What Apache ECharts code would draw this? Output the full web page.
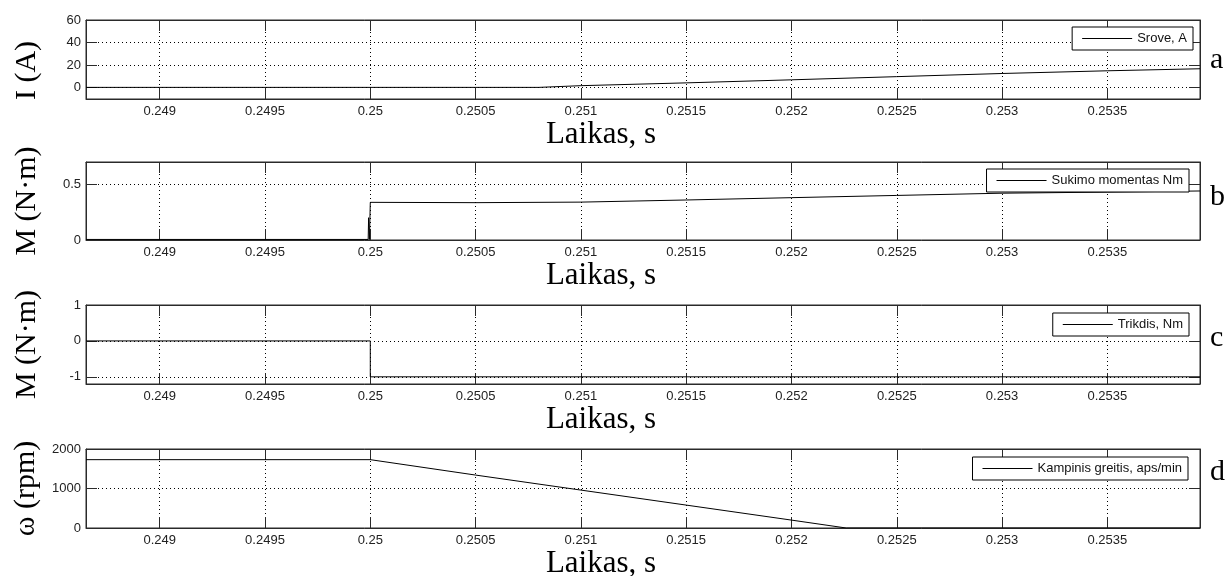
<!DOCTYPE html>
<html><head><meta charset="utf-8">
<script src="https://cdn.jsdelivr.net/npm/echarts@6/dist/echarts.min.js"></script>
<style>html,body{margin:0;padding:0;background:#fff}#c{width:1227px;height:576px}</style>
</head><body><div id="c"></div>
<script>
// ---- data ----
const xTickLabels = [0.249, 0.2495, 0.25, 0.2505, 0.251, 0.2515, 0.252, 0.2525, 0.253, 0.2535];
const xMin = 0.24865, xMax = 0.25394;

const currentT = [0.24865, 0.2508, 0.251, 0.2515, 0.252, 0.2525, 0.253, 0.2535, 0.25394];
const currentV = [0.3, 0.3, 1.8, 4.3, 7.0, 9.8, 12.6, 15.0, 16.8];

const torqueT = [0.24865, 0.24999, 0.249992, 0.249996, 0.25, 0.25, 0.2505, 0.251, 0.2515, 0.252, 0.2525, 0.253, 0.2535, 0.25394];
const torqueV = [0.005, 0.005, 0.2, 0.005, 0.005, 0.338, 0.335, 0.34, 0.359, 0.38, 0.40, 0.42, 0.43, 0.44];

const loadT = [0.24865, 0.25, 0.25, 0.25394];
const loadV = [0, 0, -1, -1];

const speedT = [0.24865, 0.25, 0.2505, 0.251, 0.2515, 0.252, 0.25226, 0.25394];
const speedV = [1730, 1730, 1340, 960, 580, 200, 0, 0];

const yTicksA = [0, 20, 40, 60];
const yTicksB = [0, 0.5];
const yTicksC = [-1, 0, 1];
const yTicksD = [0, 1000, 2000];

const seriesNames = ['Srove, A', 'Sukimo momentas Nm', 'Trikdis, Nm', 'Kampinis greitis, aps/min'];
const yNames = ['I (A)', 'M (N·m)', 'M (N·m)', 'ω (rpm)'];
const xName = 'Laikas, s';
const letters = ['a', 'b', 'c', 'd'];

// ---- layout ----
const panels = [
  {top: 20, height: 79, yMin: -10, yMax: 60, step: 20, ticks: yTicksA, t: currentT, v: currentV, lTop: 27, lRight: 34, namePad: [0, 22, 0, 0], letterY: 62},
  {top: 162, height: 78, yMin: 0, yMax: 0.7, step: 0.5, ticks: yTicksB, t: torqueT, v: torqueV, lTop: 169, lRight: 38, namePad: [0, 0, 0, 0], letterY: 199},
  {top: 305, height: 79, yMin: -1.2, yMax: 1, step: 1, ticks: yTicksC, t: loadT, v: loadV, lTop: 313, lRight: 38, namePad: [0, 0, 0, 0], letterY: 340},
  {top: 449, height: 79, yMin: 0, yMax: 2000, step: 1000, ticks: yTicksD, t: speedT, v: speedV, lTop: 457, lRight: 39, namePad: [0, 0, 0, 0], letterY: 474}
];
const LEFT = 86, WIDTH = 1114;
const frame = '#2a2a2a';
const sans = 'Liberation Sans';
const serif = 'Liberation Serif';

function near(list, v, tol) { return list.some(x => Math.abs(x - v) < tol); }

const grid = [], xAxis = [], yAxis = [], series = [], legend = [], graphic = [];
panels.forEach((p, i) => {
  grid.push({left: LEFT, top: p.top, width: WIDTH, height: p.height, show: true, borderColor: frame, borderWidth: 1, backgroundColor: '#fff', outerBoundsMode: 'none', containLabel: false});
  const xCommon = {type: 'value', gridIndex: i, min: xMin, max: xMax, minInterval: 0.0005, maxInterval: 0.0005,
    axisLine: {show: true, onZero: false, lineStyle: {color: frame, width: 1}},
    axisTick: {show: true, inside: true, length: 11, lineStyle: {color: frame}}};
  xAxis.push(Object.assign({}, xCommon, {position: 'bottom',
    axisLabel: {show: true, margin: 6, color: '#222', fontFamily: sans, fontSize: 13,
      formatter: v => near(xTickLabels, v, 1e-7) ? String(Number(v.toFixed(4))) : ''},
    splitLine: {show: true, lineStyle: {color: '#000', width: 1, type: [1, 3]}},
    name: xName, nameLocation: 'middle', nameGap: 19,
    nameTextStyle: {fontFamily: serif, fontSize: 31, color: '#000', padding: [0, 84, 0, 0]}}));
  xAxis.push(Object.assign({}, xCommon, {position: 'top', axisLabel: {show: false}, splitLine: {show: false}}));
  const yCommon = {type: 'value', gridIndex: i, min: p.yMin, max: p.yMax, minInterval: p.step, maxInterval: p.step,
    axisLine: {show: true, onZero: false, lineStyle: {color: frame, width: 1}},
    axisTick: {show: true, inside: true, length: 11, lineStyle: {color: frame}}};
  yAxis.push(Object.assign({}, yCommon, {position: 'left',
    axisLabel: {show: true, margin: 5, color: '#222', fontFamily: sans, fontSize: 13,
      formatter: v => near(p.ticks, v, p.step * 1e-4) ? String(Number(v.toFixed(4))) : ''},
    splitLine: {show: true, lineStyle: {color: '#000', width: 1, type: [1, 3]}},
    name: yNames[i], nameLocation: 'middle', nameRotate: 90, nameGap: 44,
    nameTextStyle: {fontFamily: serif, fontSize: 30, color: '#000', padding: p.namePad}}));
  yAxis.push(Object.assign({}, yCommon, {position: 'right', axisLabel: {show: false}, splitLine: {show: false}}));
  series.push({type: 'line', name: seriesNames[i], xAxisIndex: 2 * i, yAxisIndex: 2 * i,
    data: p.t.map((t, k) => [t, p.v[k]]), showSymbol: false, symbol: 'none', animation: false,
    lineStyle: {color: '#000', width: 1}, itemStyle: {color: '#000'}, z: 3});
  legend.push({data: [{name: seriesNames[i], icon: 'rect'}], right: p.lRight, top: p.lTop, itemWidth: 50, itemHeight: 1,
    padding: [4, 6, 4, 10], borderColor: '#000', borderWidth: 1, backgroundColor: '#fff', borderRadius: 0,
    itemStyle: {color: '#000', borderWidth: 0}, lineStyle: {opacity: 0},
    selectedMode: false, textStyle: {fontFamily: sans, fontSize: 13, color: '#111', lineHeight: 15}, z: 10});
  graphic.push({type: 'text', left: 1210, top: p.letterY - 17, style: {text: letters[i], font: '30px "Liberation Serif"', fill: '#000'}});
});

const chart = echarts.init(document.getElementById('c'), null, {renderer: 'canvas'});
chart.setOption({animation: false, backgroundColor: '#fff', grid, xAxis, yAxis, series, legend, graphic});
</script></body></html>
